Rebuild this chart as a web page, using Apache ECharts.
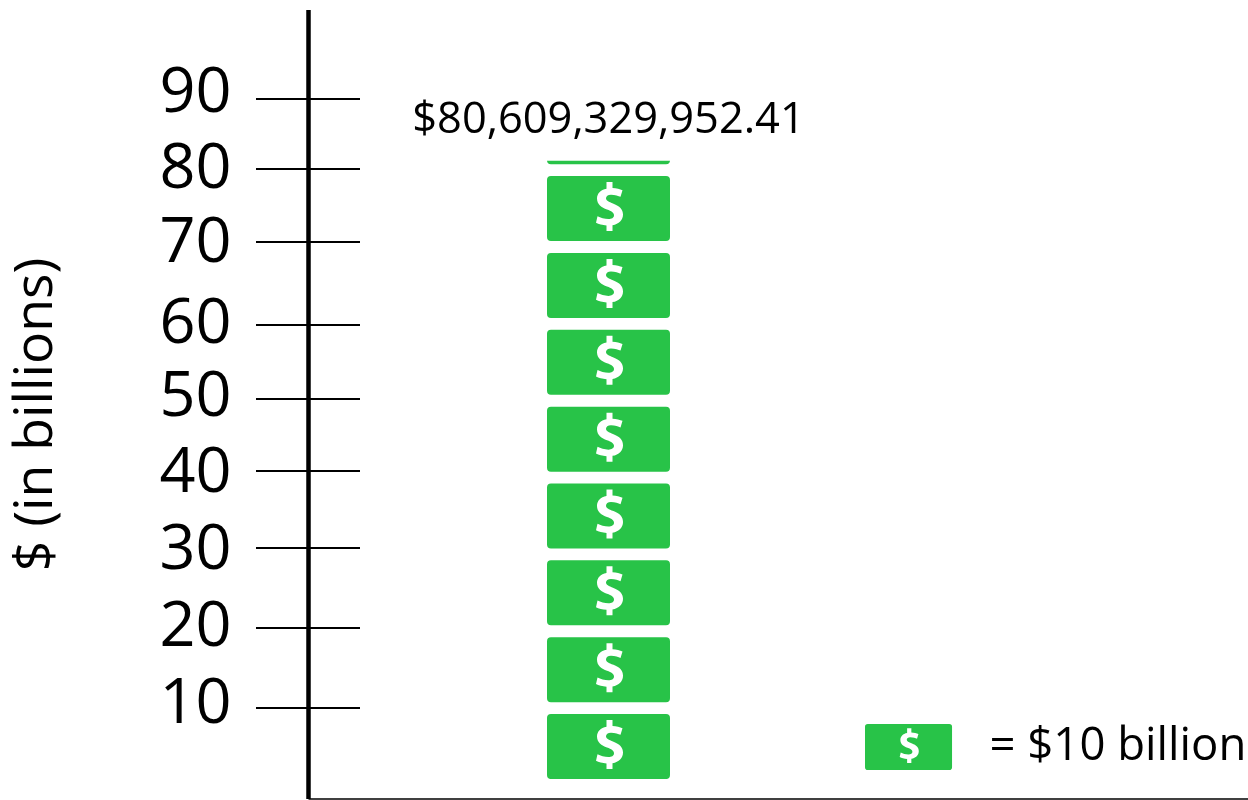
<!DOCTYPE html>
<html>
<head>
<meta charset="utf-8">
<style>
  html, body { margin: 0; padding: 0; background: #fff; }
  #chart { width: 1248px; height: 800px; }
</style>
<script src="https://cdn.jsdelivr.net/npm/echarts@6/dist/echarts.min.js"></script>
</head>
<body>
<div id="chart"></div>
<script>
// values, in billions of dollars
var totalBillions = [80.60932995];
var totalLabel = "$80,609,329,952.41";
var legendLabel = "= $10 billion";
var axisTitle = "$ (in billions)";
var tickLabels = ["10", "20", "30", "40", "50", "60", "70", "80", "90"];
// the axis of the reference is hand drawn, its ticks are not evenly spaced
var tickValues = [9.26, 19.69, 30.12, 40.16, 49.54, 59.19, 70.01, 79.53, 88.66];
var labelValues = [9.65, 19.69, 29.66, 39.7, 49.67, 59.13, 69.69, 79.4, 89.24];

var GREEN = "#28c348";
var FONT = "Open Sans";

// banknote with the dollar sign cut out of it
var notePath =
  "path://M4 0H119Q123 0 123 4V61Q123 65 119 65H4Q0 65 0 61V4Q0 0 4 0Z" +
  "M65.5 6H59.5V12.6C53.5 13.6 50 17.5 50 22.5C50 28.5 54.5 31.5 60 33.5" +
  "C64.5 35.2 67 36.5 67 39.2C67 41.8 64.5 43 61.5 43C57.5 43 53.5 41.8 50.5 40.2" +
  "L49 46.8C51.5 48.2 55.5 49.2 59.5 49.5V55H65.5V49.2C72 48.2 76 43.8 76 38.5" +
  "C76 33 72.5 30 66.5 27.6C61.5 25.6 59 24.5 59 22.2C59 20.3 60.8 18.6 64 18.6" +
  "C68 18.6 71.5 19.7 73.5 20.8L75.5 14.2C73 13 69.5 12.2 65.5 12Z";

var myChart = echarts.init(document.getElementById("chart"), null, { renderer: "canvas" });

var option = {
  animation: false,
  backgroundColor: "#fff",
  grid: { left: 308.5, right: 0, top: 10, bottom: 1, containLabel: false, outerBoundsMode: "none" },
  legend: {
    left: 865,
    top: 724,
    padding: 0,
    itemWidth: 88,
    itemHeight: 46,
    data: [{ name: legendLabel, icon: notePath }],
    textStyle: { fontFamily: FONT, fontSize: 45.5, color: "#000", padding: [4, 0, 0, 32] }
  },
  xAxis: {
    type: "value",
    min: 0,
    max: 939.5,
    axisLine: { show: true, onZero: false, lineStyle: { color: "#000", width: 1.5, cap: "butt" } },
    axisTick: { show: false },
    axisLabel: { show: false },
    splitLine: { show: false }
  },
  yAxis: [
    {
      type: "value",
      min: -2.6,
      max: 100.26,
      name: axisTitle,
      nameLocation: "middle",
      nameRotate: 90,
      nameGap: 245,
      nameTextStyle: { fontFamily: FONT, fontSize: 53.5, color: "#000", padding: [0, 20, 0, 0] },
      axisLine: { show: true, onZero: false, lineStyle: { color: "#000", width: 4.5, cap: "butt" } },
      axisTick: { show: true, length: 52.5, customValues: tickValues, lineStyle: { color: "#000", width: 1.8 } },
      axisLabel: {
        show: true,
        customValues: labelValues,
        margin: 77,
        fontFamily: FONT,
        fontSize: 63,
        color: "#000",
        formatter: function (value) { return tickLabels[labelValues.indexOf(value)]; }
      },
      splitLine: { show: false }
    },
    {
      // second half of the ticks, right of the axis line
      type: "value",
      position: "left",
      min: -2.6,
      max: 100.26,
      axisLine: { show: false, onZero: false },
      axisTick: { show: true, inside: true, length: 51.5, customValues: tickValues, lineStyle: { color: "#000", width: 1.8 } },
      axisLabel: { show: false },
      splitLine: { show: false }
    }
  ],
  series: [
    {
      type: "pictorialBar",
      name: legendLabel,
      data: [[300, totalBillions[0]]],
      symbol: notePath,
      symbolSize: [123, 65],
      symbolRepeat: 9,
      symbolBoundingData: 88.63,
      symbolClip: true,
      symbolPosition: "start",
      itemStyle: { color: GREEN },
      label: {
        show: true,
        position: "top",
        distance: 10,
        offset: [0, 53],
        fontFamily: FONT,
        fontSize: 43.4,
        color: "#000",
        formatter: function () { return totalLabel; }
      }
    }
  ]
};

option && myChart.setOption(option);
</script>
</body>
</html>
